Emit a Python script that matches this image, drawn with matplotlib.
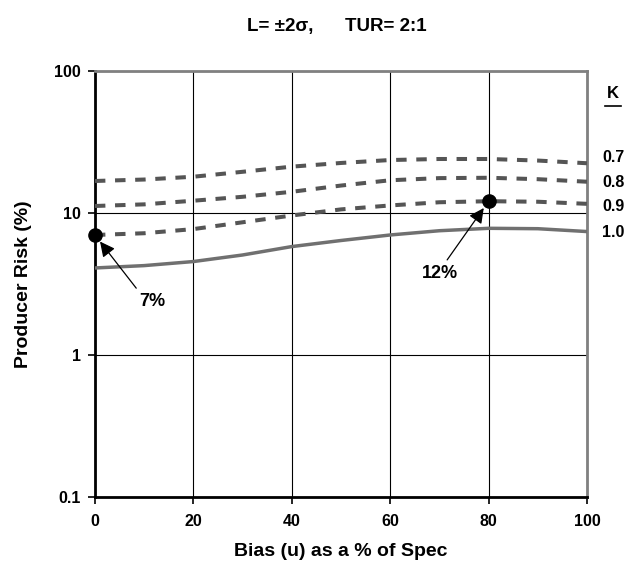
import numpy as np
import matplotlib
matplotlib.use("Agg")
import matplotlib.pyplot as plt
from matplotlib.ticker import FixedLocator, FixedFormatter, NullLocator

plt.rcParams['font.family'] = ['Liberation Sans', 'DejaVu Sans']
plt.rcParams['font.weight'] = 'bold'

# bias as % of spec
bias = [0, 10, 20, 30, 40, 50, 60, 70, 80, 90, 100]

# producer risk (%) for each K
risk_k07 = [16.8, 17.2, 18.0, 19.5, 21.2, 22.5, 23.6, 24.0, 24.0, 23.4, 22.4]
risk_k08 = [11.2, 11.5, 12.2, 13.0, 14.1, 15.6, 17.0, 17.6, 17.7, 17.3, 16.6]
risk_k09 = [7.0, 7.2, 7.7, 8.6, 9.6, 10.6, 11.3, 11.9, 12.1, 12.0, 11.6]
risk_k10 = [4.1, 4.26, 4.55, 5.06, 5.8, 6.4, 7.0, 7.5, 7.8, 7.75, 7.4]

k_labels = ['0.7', '0.8', '0.9', '1.0']

# highlighted points: (bias, risk, label)
callouts = [(0, 7.0, '7%'), (80, 12.1, '12%')]

yticks = [0.1, 1, 10, 100]
ytick_labels = ['0.1', '1', '10', '100']
xticks = [0, 20, 40, 60, 80, 100]

fig = plt.figure(figsize=(6.37, 5.71), dpi=100)
ax = fig.add_axes([0.149, 0.1296, 0.7725, 0.7461])

dash_col = '#555555'
for r in [risk_k07, risk_k08, risk_k09]:
    ax.plot(bias, r, color=dash_col, lw=2.9, dashes=(2.6, 2.4), zorder=3)
ax.plot(bias, risk_k10, color='#707070', lw=2.5, zorder=3)

ax.set_yscale('log')
ax.set_xlim(0, 100)
ax.set_ylim(0.1, 100)
ax.yaxis.set_major_locator(FixedLocator(yticks))
ax.yaxis.set_major_formatter(FixedFormatter(ytick_labels))
ax.yaxis.set_minor_locator(NullLocator())
ax.set_xticks(xticks)

ax.grid(True, which='major', color='black', lw=0.8, zorder=1)
ax.set_axisbelow(True)

for s in ['left', 'bottom']:
    ax.spines[s].set_color('black')
    ax.spines[s].set_linewidth(2)
for s in ['right', 'top']:
    ax.spines[s].set_color('#808080')
    ax.spines[s].set_linewidth(2)

ax.tick_params(axis='both', direction='out', length=5, width=1.2,
               labelsize=11.5)
ax.tick_params(axis='y', pad=5)
ax.tick_params(axis='x', pad=7)
for lab in ax.get_xticklabels() + ax.get_yticklabels():
    lab.set_fontweight('bold')

ax.set_xlabel('Bias (u) as a % of Spec', fontsize=14, fontweight='bold')
ax.xaxis.set_label_coords(0.5, -0.108)
ax.set_ylabel('Producer Risk (%)', fontsize=14, fontweight='bold')
ax.yaxis.set_label_coords(-0.127, 0.5)

fig.text(0.528, 1 - 27 / 571, 'L= \u00b12\u03c3,      TUR= 2:1', ha='center',
         va='center', fontsize=13.5, fontweight='bold')

# callout markers and arrows
bx = [c[0] for c in callouts]
by = [c[1] for c in callouts]
ax.plot(bx, by, 'o', color='black', ms=9.5, clip_on=False, zorder=5)
offsets = [(41, -48), (-35, -52)]
relpos = [(0.05, 1.0), (0.6, 1.0)]
for (x, y, t), off, rp in zip(callouts, offsets, relpos):
    ax.annotate(t, xy=(x, y), xytext=off, textcoords='offset points',
                ha='center', va='center', fontsize=13, fontweight='bold',
                arrowprops=dict(arrowstyle='-|>,head_length=0.6,head_width=0.3',
                                color='black', lw=0.9, shrinkA=2, shrinkB=6,
                                relpos=rp, mutation_scale=15),
                zorder=6)

# K legend on the right
ax.text(1.053, 0.948, 'K', transform=ax.transAxes, ha='center', va='center',
        fontsize=12, fontweight='bold')
ax.plot([1.037, 1.069], [0.918, 0.918], transform=ax.transAxes, color='black',
        lw=1.2, clip_on=False)
label_y = [0.798, 0.739, 0.681, 0.622]
for t, yy in zip(k_labels, label_y):
    ax.text(1.053, yy, t, transform=ax.transAxes, ha='center', va='center',
            fontsize=11.5, fontweight='bold')

fig.savefig('out.png', dpi=100)
